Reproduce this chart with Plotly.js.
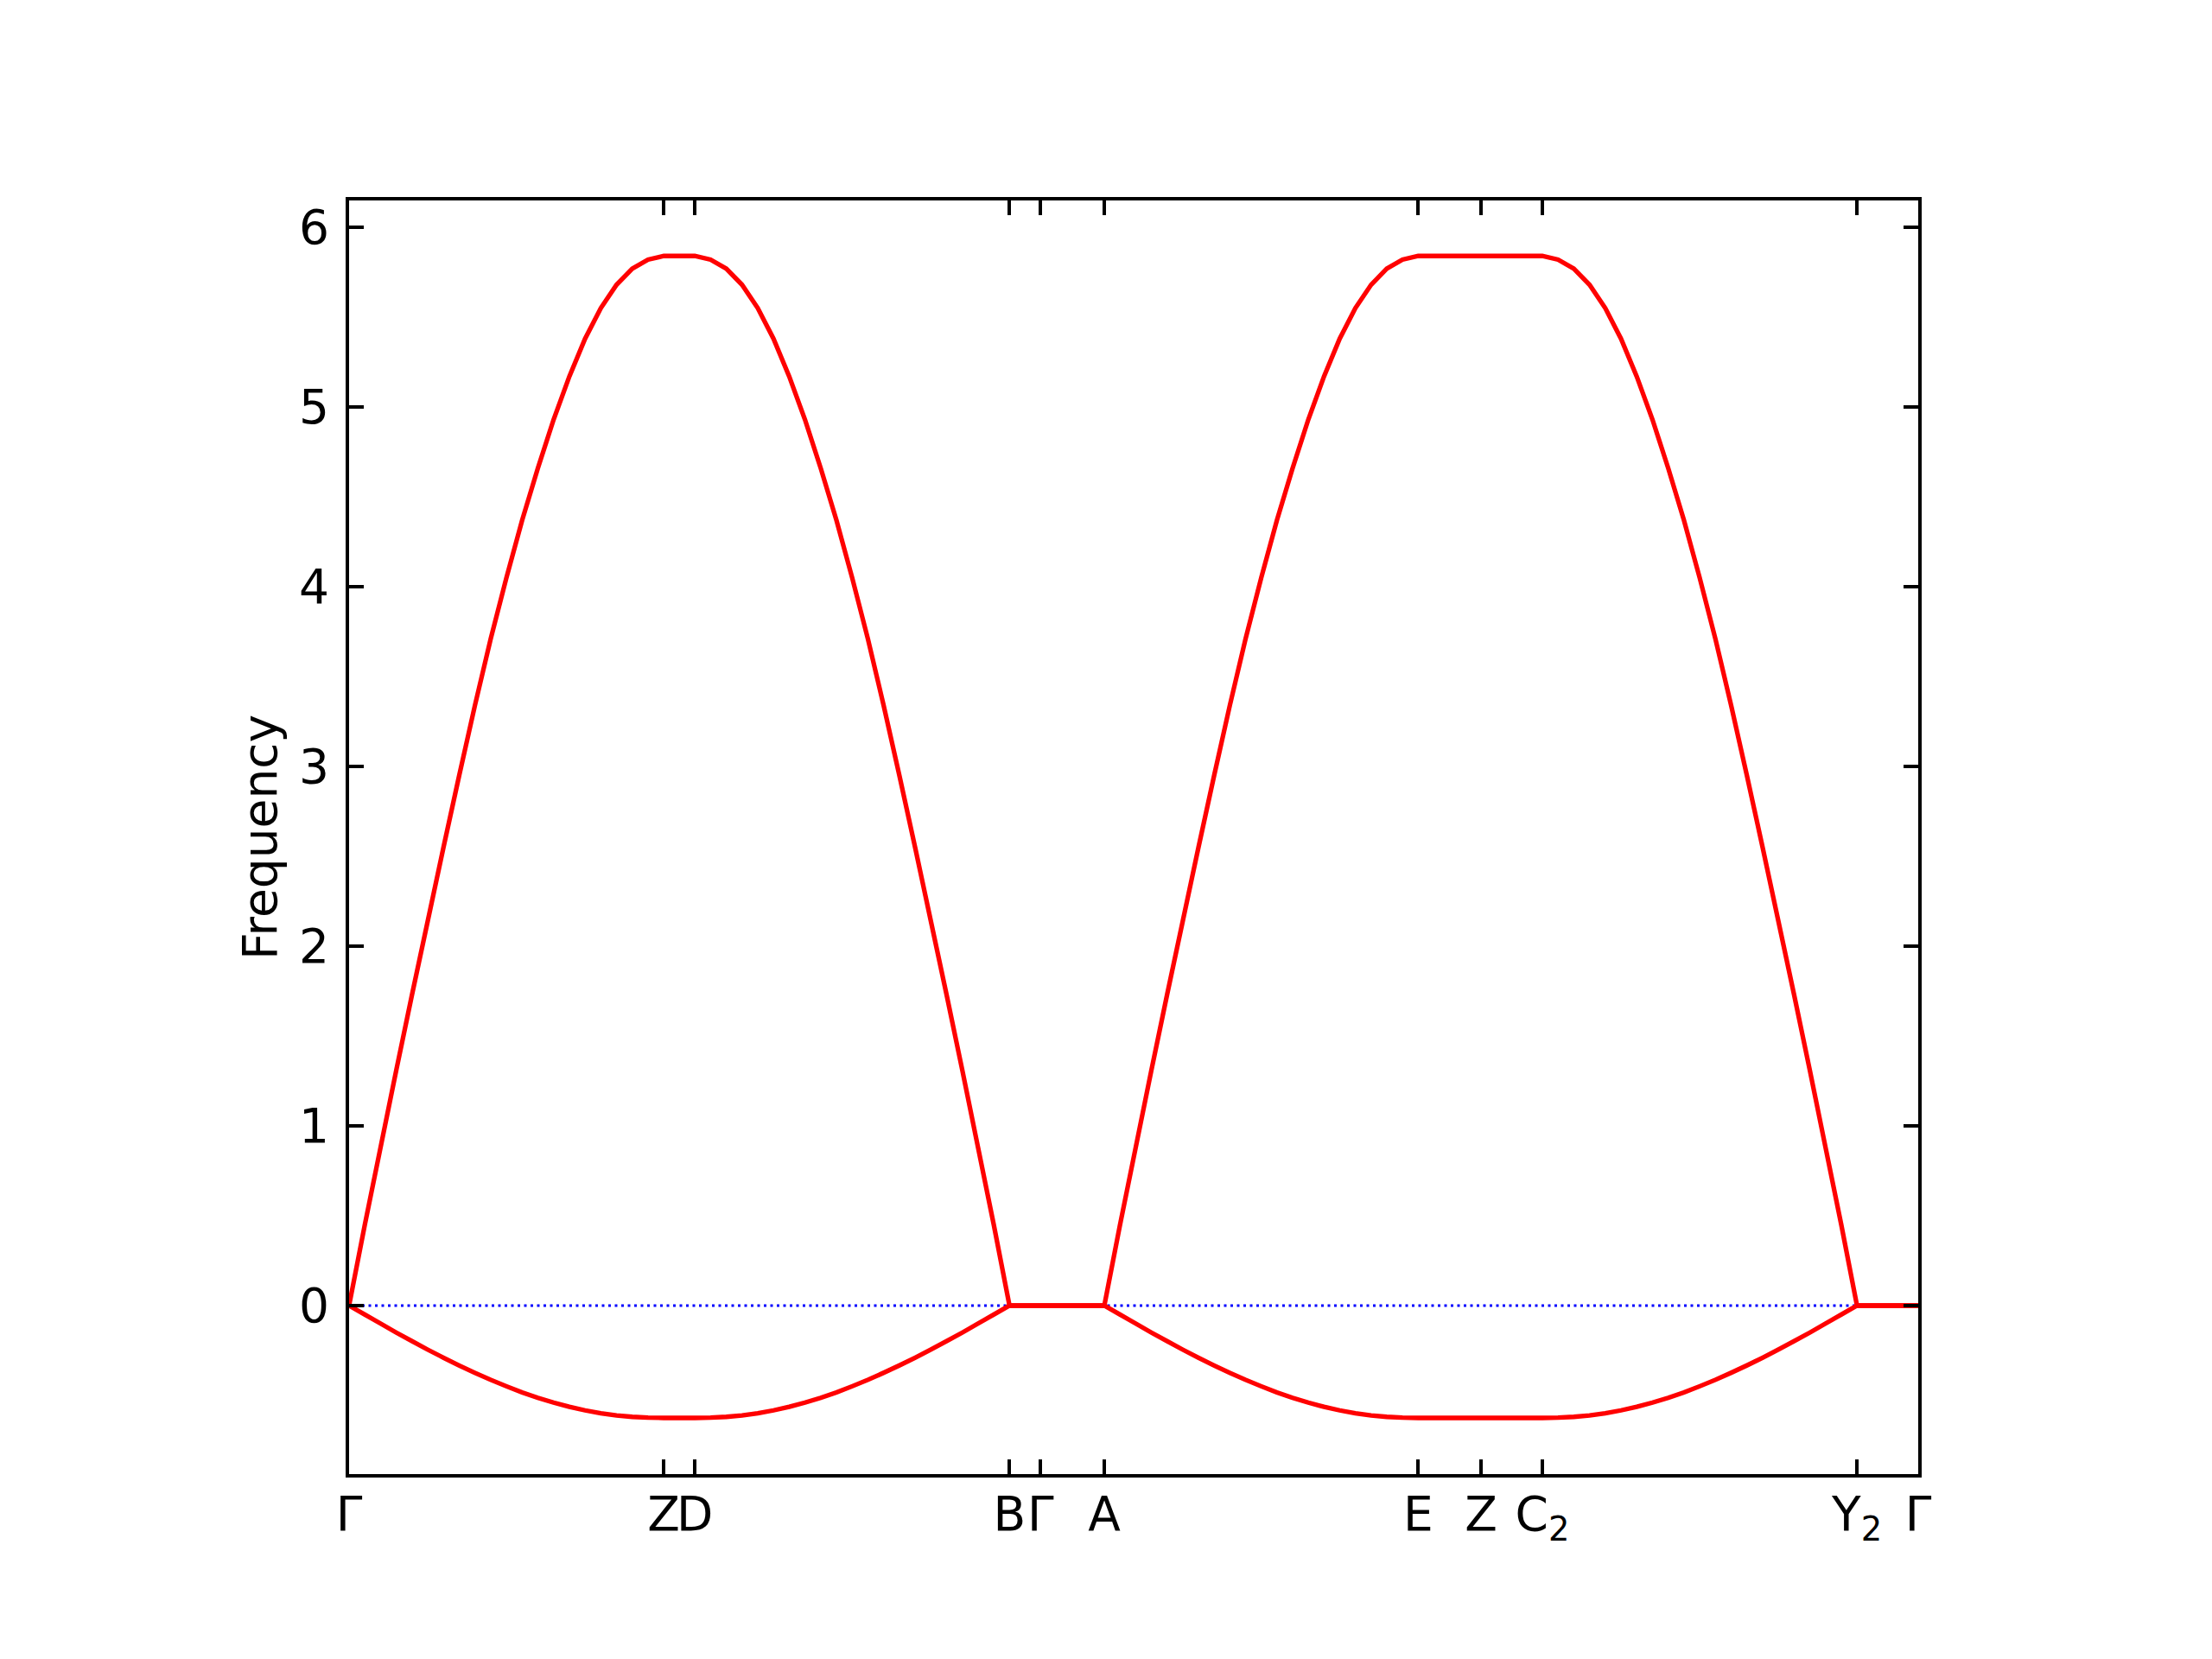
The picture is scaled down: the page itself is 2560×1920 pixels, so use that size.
<!DOCTYPE html>
<html>
<head>
<meta charset="utf-8">
<script src="https://cdn.plot.ly/plotly-3.0.1.min.js"></script>
<style>
  html, body { margin: 0; padding: 0; background: #fff; }
  #chart { width: 2560px; height: 1920px; }
</style>
</head>
<body>
<div id="chart"></div>
<script>
// High-symmetry points along the path (distance units)
const tickLabels = ['Γ', 'Z', 'D', 'B', 'Γ', 'A', 'E', 'Z', 'C<sub>2</sub>', 'Y<sub>2</sub>', 'Γ'];
const tickPositions = [0, 3.65, 4.01, 7.66, 8.02, 8.76, 12.40, 13.13, 13.84, 17.49, 18.20];
const yTicks = [0, 1, 2, 3, 4, 5, 6];

// Path distance of band samples: Γ→Z, D→B, Γ, A→E, Z, C2→Y2, Γ
const kDist = [
  0, 0.1825, 0.365, 0.5475, 0.73, 0.9125, 1.095, 1.2775, 1.46, 1.6425, 1.825,
  2.0075, 2.19, 2.3725, 2.555, 2.7375, 2.92, 3.1025, 3.285, 3.4675, 3.65,
  4.01, 4.1925, 4.375, 4.5575, 4.74, 4.9225, 5.105, 5.2875, 5.47, 5.6525, 5.835,
  6.0175, 6.2, 6.3825, 6.565, 6.7475, 6.93, 7.1125, 7.295, 7.4775, 7.66,
  8.02,
  8.76, 8.942, 9.124, 9.306, 9.488, 9.67, 9.852, 10.034, 10.216, 10.398, 10.58,
  10.762, 10.944, 11.126, 11.308, 11.49, 11.672, 11.854, 12.036, 12.218, 12.40,
  13.13,
  13.84, 14.0225, 14.205, 14.3875, 14.57, 14.7525, 14.935, 15.1175, 15.3, 15.4825, 15.665,
  15.8475, 16.03, 16.2125, 16.395, 16.5775, 16.76, 16.9425, 17.125, 17.3075, 17.49,
  18.20
];

// Upper (acoustic) band frequencies
const bandUpper = [
  0, 0.45, 0.88, 1.31, 1.73, 2.14, 2.55, 2.95, 3.34, 3.71, 4.05,
  4.37, 4.66, 4.93, 5.17, 5.38, 5.55, 5.68, 5.77, 5.82, 5.84,
  5.84, 5.82, 5.77, 5.68, 5.55, 5.38, 5.17, 4.93, 4.66, 4.37, 4.05,
  3.71, 3.34, 2.95, 2.55, 2.14, 1.73, 1.31, 0.88, 0.45, 0,
  0,
  0, 0.45, 0.88, 1.31, 1.73, 2.14, 2.55, 2.95, 3.34, 3.71, 4.05,
  4.37, 4.66, 4.93, 5.17, 5.38, 5.55, 5.68, 5.77, 5.82, 5.84,
  5.84,
  5.84, 5.82, 5.77, 5.68, 5.55, 5.38, 5.17, 4.93, 4.66, 4.37, 4.05,
  3.71, 3.34, 2.95, 2.55, 2.14, 1.73, 1.31, 0.88, 0.45, 0,
  0
];

// Lower (imaginary) band frequencies
const bandLower = [
  0, -0.050, -0.100, -0.150, -0.198, -0.245, -0.290, -0.333, -0.374, -0.413, -0.449,
  -0.483, -0.513, -0.540, -0.563, -0.583, -0.599, -0.611, -0.619, -0.623, -0.625,
  -0.625, -0.623, -0.619, -0.611, -0.599, -0.583, -0.563, -0.540, -0.513, -0.483, -0.449,
  -0.413, -0.374, -0.333, -0.290, -0.245, -0.198, -0.150, -0.100, -0.050, 0,
  0,
  0, -0.050, -0.100, -0.150, -0.198, -0.245, -0.290, -0.333, -0.374, -0.413, -0.449,
  -0.483, -0.513, -0.540, -0.563, -0.583, -0.599, -0.611, -0.619, -0.623, -0.625,
  -0.625,
  -0.625, -0.623, -0.619, -0.611, -0.599, -0.583, -0.563, -0.540, -0.513, -0.483, -0.449,
  -0.413, -0.374, -0.333, -0.290, -0.245, -0.198, -0.150, -0.100, -0.050, 0,
  0
];

const traces = [
  {
    x: kDist, y: bandLower, type: 'scatter', mode: 'lines',
    line: { color: '#ff0000', width: 5.3, simplify: false },
    showlegend: false
  },
  {
    x: kDist, y: bandUpper, type: 'scatter', mode: 'lines',
    line: { color: '#ff0000', width: 5.3, simplify: false },
    showlegend: false
  }
];

const fontFam = 'DejaVu Sans, sans-serif';

const layout = {
  width: 2560, height: 1920,
  paper_bgcolor: '#ffffff', plot_bgcolor: '#ffffff',
  margin: { l: 404, r: 340, t: 232, b: 214, pad: 0 },
  showlegend: false,
  font: { family: fontFam, size: 55, color: '#000000' },
  shapes: [{
    type: 'line', xref: 'x', yref: 'y', layer: 'below',
    x0: tickPositions[0], x1: tickPositions[tickPositions.length - 1], y0: 0, y1: 0,
    line: { color: '#0000ff', width: 3, dash: '3px,4.5px' }
  }],
  xaxis: {
    range: [tickPositions[0], tickPositions[tickPositions.length - 1]],
    tickmode: 'array', tickvals: tickPositions, ticktext: tickLabels,
    tickangle: 0,
    ticks: 'inside', ticklen: 17, tickwidth: 4, tickcolor: '#000',
    showline: true, linecolor: '#000', linewidth: 4, mirror: 'ticks',
    showgrid: false, zeroline: false,
    tickfont: { family: fontFam, size: 55, color: '#000' },
    ticklabelstandoff: -5
  },
  yaxis: {
    range: [-0.9375, 6.149],
    tickmode: 'array', tickvals: yTicks, ticktext: yTicks.map(String),
    ticks: 'inside', ticklen: 17, tickwidth: 4, tickcolor: '#000',
    showline: true, linecolor: '#000', linewidth: 4, mirror: 'ticks',
    showgrid: false, zeroline: false,
    tickfont: { family: fontFam, size: 55, color: '#000' },
    ticklabelstandoff: 8,
    title: { text: 'Frequency', font: { family: fontFam, size: 55, color: '#000' }, standoff: 9 }
  }
};

Plotly.newPlot('chart', traces, layout, { staticPlot: true, displayModeBar: false });
</script>
</body>
</html>
